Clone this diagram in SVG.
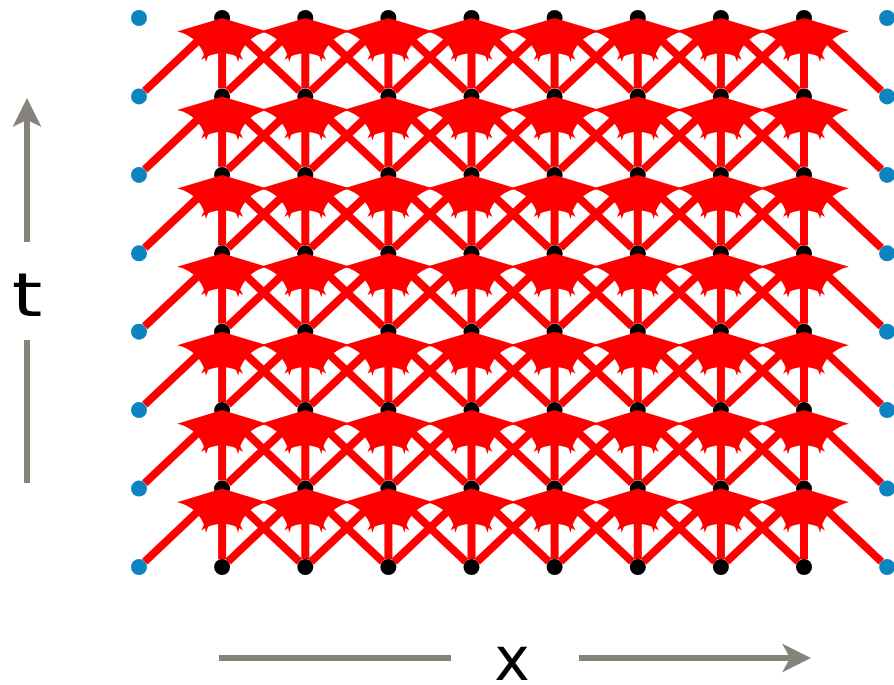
<svg xmlns="http://www.w3.org/2000/svg" xmlns:xlink="http://www.w3.org/1999/xlink" width="894" height="685" viewBox="0 0 894 685">
<style>
.sh{stroke:#ff0000;stroke-width:8;fill:none}
.hd{fill:#ff0000}
.bk{fill:#000000}
.bl{fill:#0b84c0}
.ax{stroke:#85837a;stroke-width:6;fill:none}
.axh{fill:#85837a}
.lbl{font-family:"DejaVu Sans",sans-serif;font-size:60px;fill:#000;text-anchor:middle}
</style>
<defs>
<path id="ah" class="hd" d="M0,0 L-42,-21 C-33,-8 -33,8 -42,21 Z"/>
<g id="cell">
<line class="sh" x1="0" y1="70.4" x2="0" y2="22"/>
<line class="sh" x1="-77.31" y1="72.94" x2="-16" y2="15.1"/>
<line class="sh" x1="77.31" y1="72.94" x2="16" y2="15.1"/>
<use href="#ah" transform="rotate(-90)"/>
<use href="#ah" transform="rotate(-43.33)"/>
<use href="#ah" transform="rotate(-136.67)"/>
</g>
<g id="rowb">
<circle class="bl" cx="139" cy="0" r="8"/>
<circle class="bk" cx="222.1" cy="0" r="8"/>
<circle class="bk" cx="305.3" cy="0" r="8"/>
<circle class="bk" cx="388.4" cy="0" r="8"/>
<circle class="bk" cx="471.5" cy="0" r="8"/>
<circle class="bk" cx="554.6" cy="0" r="8"/>
<circle class="bk" cx="637.8" cy="0" r="8"/>
<circle class="bk" cx="720.9" cy="0" r="8"/>
<circle class="bk" cx="804" cy="0" r="8"/>
<circle class="bl" cx="887.1" cy="0" r="8"/>
</g>
<g id="rowc">
<use href="#cell" x="222.1"/>
<use href="#cell" x="305.3"/>
<use href="#cell" x="388.4"/>
<use href="#cell" x="471.5"/>
<use href="#cell" x="554.6"/>
<use href="#cell" x="637.8"/>
<use href="#cell" x="720.9"/>
<use href="#cell" x="804"/>
</g>
</defs>
<g id="nodes">
<g id="row7"><use href="#rowb" y="18"/></g>
<g id="row6"><use href="#rowb" y="96.4"/></g>
<g id="row5"><use href="#rowb" y="174.9"/></g>
<g id="row4"><use href="#rowb" y="253.3"/></g>
<g id="row3"><use href="#rowb" y="331.7"/></g>
<g id="row2"><use href="#rowb" y="410.1"/></g>
<g id="row1"><use href="#rowb" y="488.6"/></g>
<g id="row0"><use href="#rowb" y="567"/></g>
</g>
<g id="connectors">
<use href="#rowc" y="488.6"/>
<use href="#rowc" y="410.1"/>
<use href="#rowc" y="331.7"/>
<use href="#rowc" y="253.3"/>
<use href="#rowc" y="174.9"/>
<use href="#rowc" y="96.4"/>
<use href="#rowc" y="18"/>
</g>
<g id="t-axis">
<line class="ax" x1="27" y1="483" x2="27" y2="340"/>
<line class="ax" x1="27" y1="242" x2="27" y2="118"/>
<path class="axh" d="M27,98 L41.5,127 L27,120 L12.5,127 Z"/>
<text class="lbl" transform="translate(27,316) scale(1.3,1)">t</text>
</g>
<g id="x-axis">
<line class="ax" x1="219" y1="658" x2="451" y2="658"/>
<line class="ax" x1="579" y1="658" x2="792" y2="658"/>
<path class="axh" d="M811,658 L782,643.5 L790,658 L782,672.5 Z"/>
<text class="lbl" x="512" y="680">x</text>
</g>
</svg>
